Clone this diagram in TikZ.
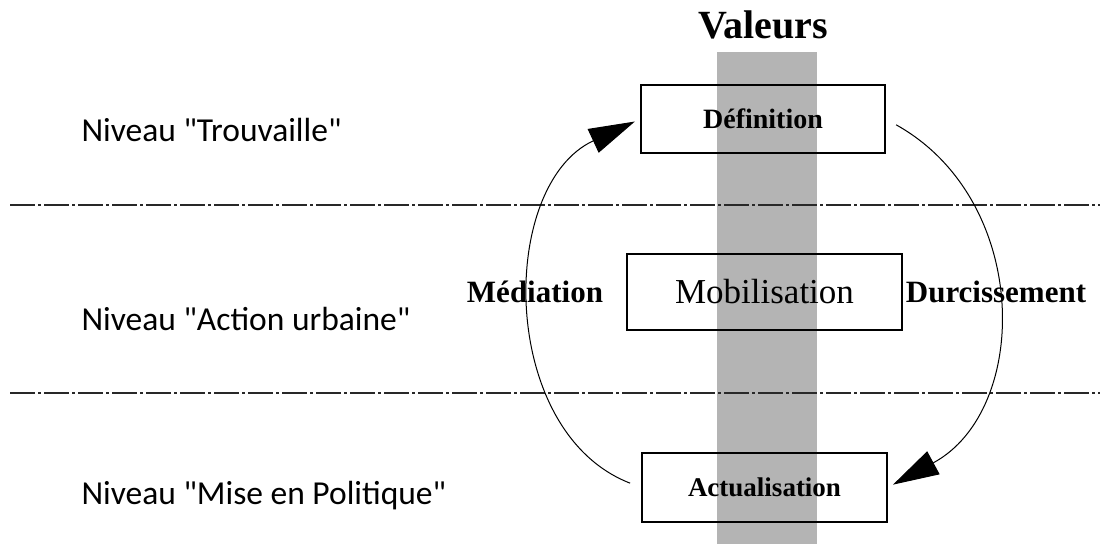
\documentclass[tikz,border=0pt]{standalone}
\usepackage{fontspec}
\setmainfont{Liberation Serif}
\newfontfamily\niveaufont{Carlito}
\usepackage{tikz}
\usetikzlibrary{arrows.meta,calc,positioning}
\definecolor{bandgray}{RGB}{180,180,180}
\definecolor{sepgray}{RGB}{40,40,40}

\begin{document}
\begin{tikzpicture}[x=1pt,y=-1pt,
  valbox/.style={draw,line width=1.4pt,inner sep=0pt},
  niveau/.style={anchor=west,font=\niveaufont\fontsize{33.5}{36}\selectfont},
  sep/.style={sepgray,line width=2.4pt,dash pattern=on 25pt off 3pt on 3pt off 3pt},
  cycle/.style={-{Triangle[length=46pt,width=26pt]},line width=1pt,shorten <=12pt,shorten >=6pt}]
\useasboundingbox (0,0) rectangle (1112,544);
\fill[bandgray] (717,52) rectangle (817,544);
\node (val) at (763,25) {\fontsize{40}{44}\selectfont\bfseries Valeurs};
% niveaux
\node[niveau] (n1) at (78,130) {Niveau "Trouvaille"};
\node[niveau] (n2) at (78,319) {Niveau "Action urbaine"};
\node[niveau] (n3) at (78,496) {Niveau "Mise en Politique"};
\coordinate (s1l) at (10,205);
\coordinate (s1r) at (1100,205);
\coordinate (s2l) at (10,393);
\coordinate (s2r) at (1100,393);
\draw[sep] (s1l) -- (s1r);
\draw[sep] (s2l) -- (s2r);
% boites
\node[valbox,minimum width=244pt,minimum height=68pt] (def) at (763,119)
  {\fontsize{28}{30}\selectfont\bfseries Définition};
\node[valbox,minimum width=275pt,minimum height=76pt] (mob) at (764.5,292)
  {\fontsize{35}{38}\selectfont Mobilisation};
\node[valbox,minimum width=245pt,minimum height=69pt] (act) at (764.5,487.5)
  {\fontsize{27}{30}\selectfont\bfseries Actualisation};
\node (med) at (535,292) {\fontsize{31}{34}\selectfont\bfseries Médiation};
\node (dur) at (996,292) {\fontsize{31}{34}\selectfont\bfseries Durcissement};
\draw[cycle] (act.west) .. controls (498,432) and (498,185) .. (def.west);
\draw[cycle] (def.east) .. controls (1031,200) and (1031,410) .. (act.east);
\end{tikzpicture}
\end{document}
